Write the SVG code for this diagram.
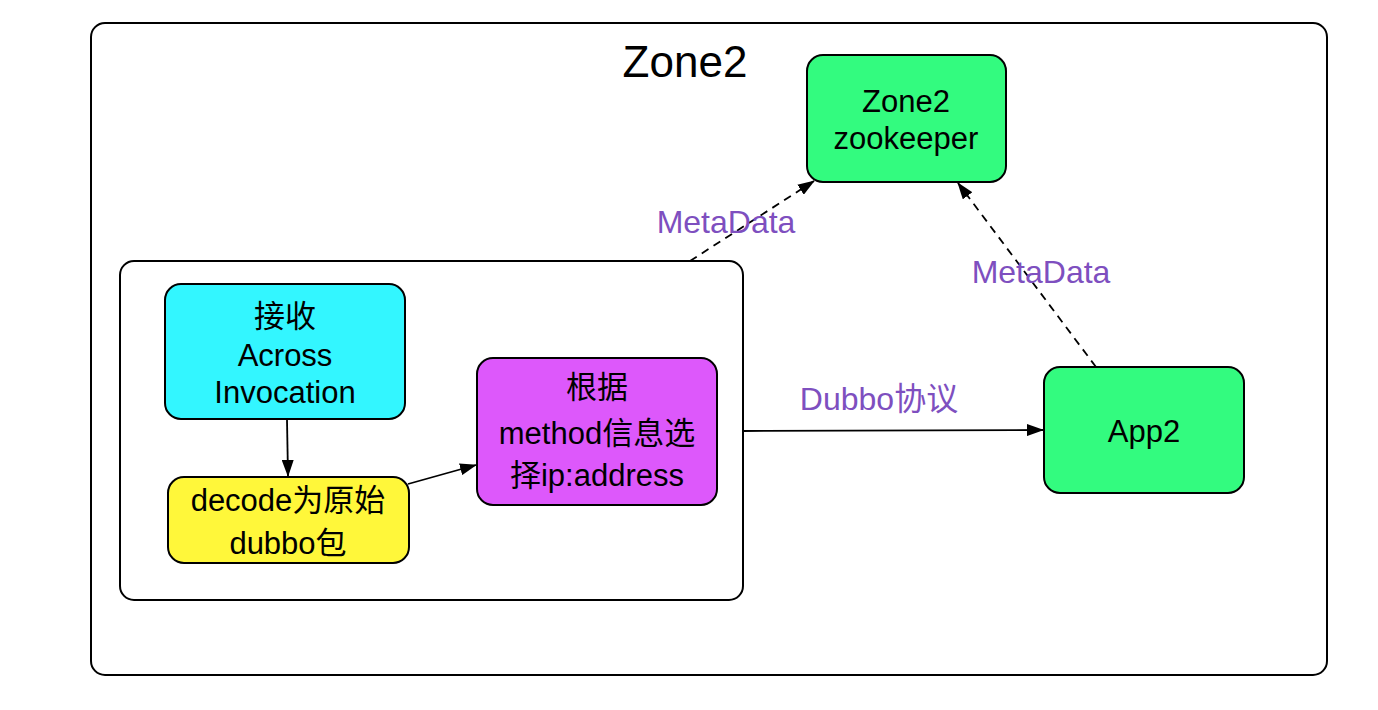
<svg xmlns="http://www.w3.org/2000/svg" width="1378" height="710" viewBox="0 0 1378 710">
<style>
.box{stroke:#000;stroke-width:2}
.t{font-family:"Liberation Sans","Noto Sans CJK SC",sans-serif;font-size:31px;fill:#000;text-anchor:middle}
.lbl{font-family:"Liberation Sans","Noto Sans CJK SC",sans-serif;font-size:32px;fill:#7E4FBF;text-anchor:middle}
.c{stroke:#000;stroke-width:1.8;fill:none}
.d{stroke-dasharray:8 6}
</style>
<defs>
<marker id="ah" viewBox="0 0 17 12" refX="16" refY="6" markerWidth="17" markerHeight="12" markerUnits="userSpaceOnUse" orient="auto"><path d="M0,0 L17,6 L0,12 z" fill="#000"/></marker>
</defs>
<rect width="1378" height="710" fill="#fff"/>
<g id="zone2">
<rect class="box" x="91" y="23" width="1236" height="652" rx="14" fill="#fff"/>
<text class="t" x="685" y="77" style="font-size:44px">Zone2</text>
</g>
<g id="inner">
<rect class="box" x="120" y="261" width="623" height="339" rx="14" fill="#fff"/>
</g>
<g id="zookeeper">
<rect class="box" x="807" y="55" width="199" height="127" rx="16" fill="#33FB7F"/>
<text class="t" x="906" y="112">Zone2</text>
<text class="t" x="906" y="149">zookeeper</text>
</g>
<g id="receive">
<rect class="box" x="165" y="284" width="240" height="135" rx="16" fill="#33F6FF"/>
<text class="t" x="285" y="327">接收</text>
<text class="t" x="285" y="366">Across</text>
<text class="t" x="285" y="403">Invocation</text>
</g>
<g id="decode">
<rect class="box" x="168" y="477" width="241" height="86" rx="16" fill="#FFF73A"/>
<text class="t" x="288" y="511">decode为原始</text>
<text class="t" x="288" y="554">dubbo包</text>
</g>
<g id="select">
<rect class="box" x="477" y="358" width="240" height="147" rx="16" fill="#DD58FB"/>
<text class="t" x="597" y="398">根据</text>
<text class="t" x="597" y="444">method信息选</text>
<text class="t" x="597" y="486">择ip:address</text>
</g>
<g id="app2">
<rect class="box" x="1044" y="367" width="200" height="126" rx="16" fill="#33FB7F"/>
<text class="t" x="1144" y="442">App2</text>
</g>
<g id="connectors">
<path class="c" d="M287,420 L288,476" marker-end="url(#ah)"/>
<path class="c" d="M408,484 L476,465" marker-end="url(#ah)"/>
<path class="c" d="M743,431 L1043,430" marker-end="url(#ah)"/>
<path class="c d" d="M690,261 L814,181" marker-end="url(#ah)"/>
<path class="c d" d="M1096,367 L958,183" marker-end="url(#ah)"/>
<text class="lbl" x="726" y="233">MetaData</text>
<text class="lbl" x="1041" y="283">MetaData</text>
<text class="lbl" x="879" y="410">Dubbo协议</text>
</g>
</svg>
